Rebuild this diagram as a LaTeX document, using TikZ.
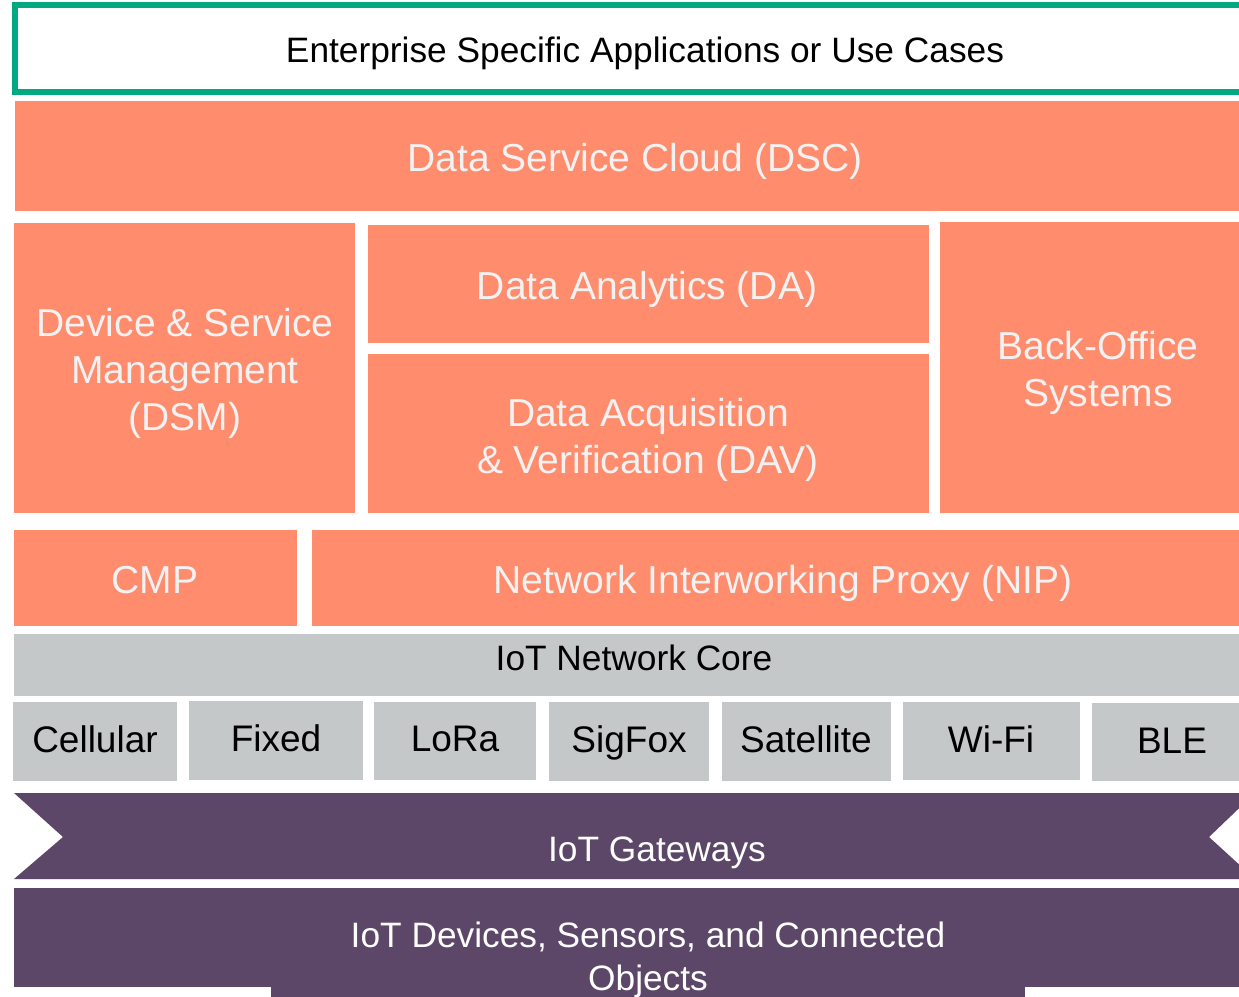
\documentclass[tikz,border=0pt]{standalone}
\usepackage{fontspec}
\setmainfont{Liberation Sans}
\definecolor{hpegreen}{HTML}{01A982}
\definecolor{coral}{HTML}{FF8C6C}
\definecolor{greybox}{HTML}{C5C8C9}
\definecolor{plum}{HTML}{5C4768}
\definecolor{paletext}{HTML}{F2F2F2}
\tikzset{
  coralbox/.style={fill=coral},
  greyfill/.style={fill=greybox},
  plumfill/.style={fill=plum},
  biglbl/.style={font=\fontsize{39}{46.7}\selectfont, text=paletext, inner sep=0pt, align=center, anchor=base},
  darklbl/.style={font=\fontsize{35.3}{42.5}\selectfont, text=black, inner sep=0pt, anchor=base},
  smalllbl/.style={font=\fontsize{37}{44}\selectfont, text=black, inner sep=0pt, anchor=base},
  lightlbl/.style={font=\fontsize{35.3}{42.5}\selectfont, text=white, inner sep=0pt, align=center, anchor=base}
}
\begin{document}
\begin{tikzpicture}[x=1pt,y=-1pt]
\useasboundingbox (0,0) rectangle (1239,996);
\clip (0,0) rectangle (1239,996);
\fill[white] (0,0) rectangle (1239,996);
% top
\draw[hpegreen, line width=6pt, fill=white] (15,5.4) rectangle (1300,92);
\node[darklbl] (ent) at (645,62) {Enterprise Specific Applications or Use Cases};
% DSC
\fill[coralbox] (15,101) rectangle (1260,211);
\node[biglbl] (dsc) at (635,171) {Data Service Cloud (DSC)};
% middle row
\fill[coralbox] (14,223) rectangle (355,513);
\node[biglbl] (dsm) at (185,430) {Device \& Service\\Management\\(DSM)};
\fill[coralbox] (368,225) rectangle (929,343);
\node[biglbl] (da) at (647,299) {Data Analytics (DA)};
\fill[coralbox] (368,354) rectangle (929,513);
\node[biglbl] (dav) at (648,473) {Data Acquisition\\\& Verification (DAV)};
\fill[coralbox] (940,222) rectangle (1260,513);
\node[biglbl] (bo) at (1098,406) {Back-Office\\Systems};
% CMP / NIP
\fill[coralbox] (14,530) rectangle (297,626);
\node[biglbl] (cmp) at (155,593) {CMP};
\fill[coralbox] (312,530) rectangle (1260,626);
\node[biglbl] (nip) at (783,593) {Network Interworking Proxy (NIP)};
% core
\fill[greyfill] (14,634) rectangle (1260,696);
\node[darklbl] (core) at (634,670) {IoT Network Core};
% access
\fill[greyfill] (13,702) rectangle (177,781);
\node[smalllbl] (cell) at (95,752.5) {Cellular};
\fill[greyfill] (189,701) rectangle (363,780);
\node[smalllbl] (fixed) at (276,751.5) {Fixed};
\fill[greyfill] (374,702) rectangle (536,780);
\node[smalllbl] (lora) at (455,751.5) {LoRa};
\fill[greyfill] (549,702) rectangle (709,781);
\node[smalllbl] (sigfox) at (629,752.5) {SigFox};
\fill[greyfill] (722,702) rectangle (891,781);
\node[smalllbl] (sat) at (806,752.5) {Satellite};
\fill[greyfill] (903,702) rectangle (1080,780);
\node[smalllbl] (wifi) at (991,752.5) {Wi-Fi};
\fill[greyfill] (1092,703) rectangle (1260,781);
\node[smalllbl] (ble) at (1172,753) {BLE};
% gateways
\fill[plumfill] (14,793) -- (1255,793) -- (1209,837) -- (1255,879) -- (14,879) -- (63,837) -- cycle;
\node[lightlbl] (gw) at (657,861.5) {IoT Gateways};
% devices
\fill[plumfill] (14,888) rectangle (1260,987);
\fill[plumfill] (271,986) rectangle (1025,1000);
\node[lightlbl] (dev) at (648,990) {IoT Devices, Sensors, and Connected\\Objects};
\end{tikzpicture}
\end{document}
